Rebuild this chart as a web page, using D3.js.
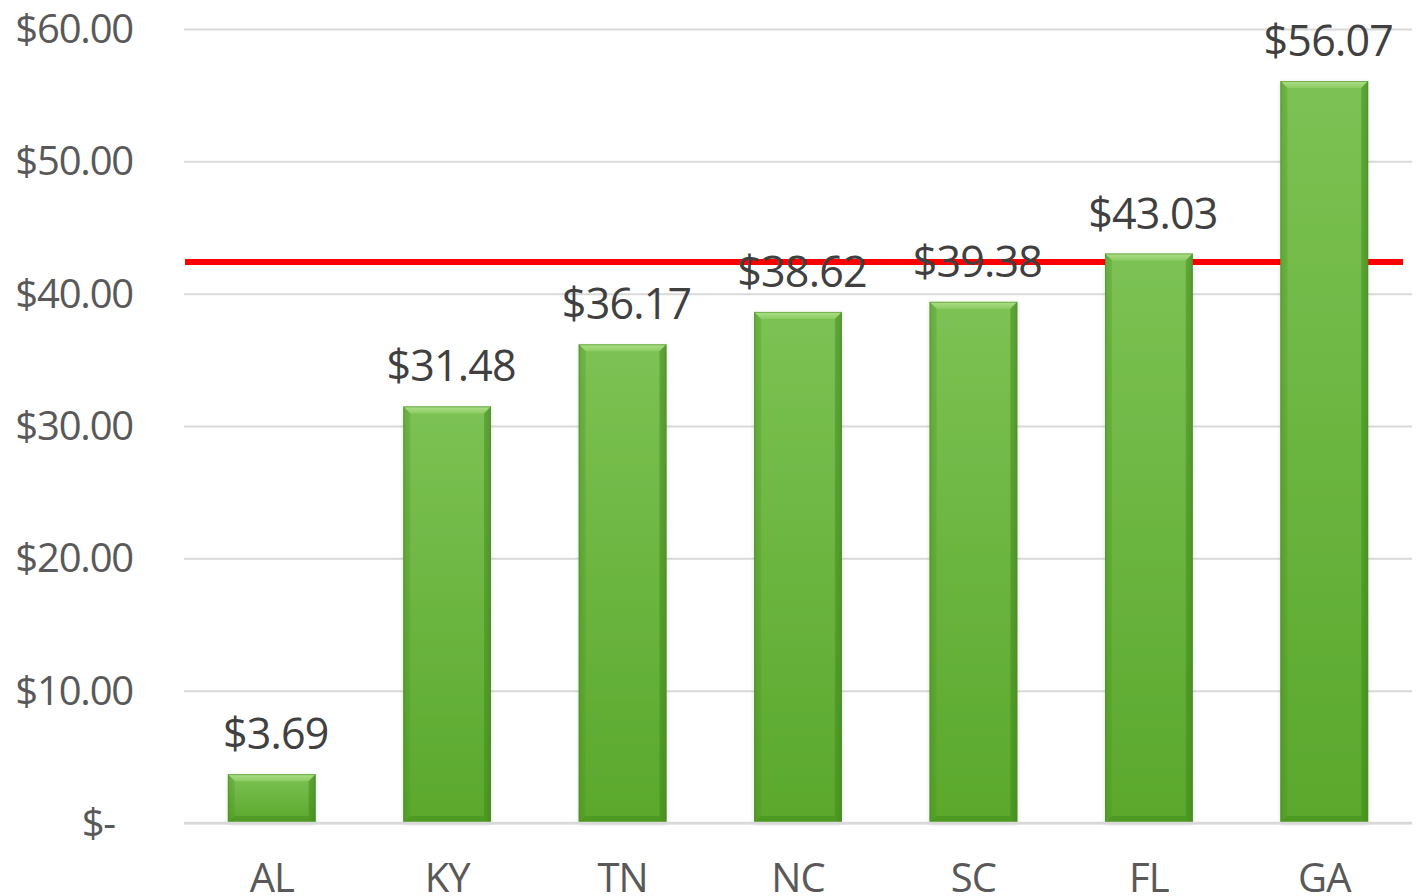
<!DOCTYPE html>
<html>
<head>
<meta charset="utf-8">
<script src="https://cdn.jsdelivr.net/npm/d3@7/dist/d3.min.js"></script>
<style>
  html, body { margin: 0; padding: 0; background: #fff; }
  svg { display: block; }
  text { font-family: "Open Sans", "Noto Sans", sans-serif; }
</style>
</head>
<body>
<svg id="chart" width="1418" height="896"></svg>
<script>
const categories = ["AL", "KY", "TN", "NC", "SC", "FL", "GA"];
const values = [3.69, 31.48, 36.17, 38.62, 39.38, 43.03, 56.07];
const referenceValue = 42.4;
const yTicks = [0, 10, 20, 30, 40, 50, 60];

const svg = d3.select("#chart");
const mLeft = 184, mRight = 1412, mTop = 29, mBottom = 823;

const x = d3.scaleBand().domain(categories).range([mLeft, mRight]).paddingInner(0.5).paddingOuter(0.25);
const y = d3.scaleLinear().domain([0, 60]).range([mBottom, mTop]);

const fmt = v => v === 0 ? "$-" : "$" + d3.format(".2f")(v);

const defs = svg.append("defs");
const g1 = defs.append("linearGradient").attr("id", "barFill").attr("x1", 0).attr("y1", 0).attr("x2", 0).attr("y2", 1);
g1.append("stop").attr("offset", "0%").attr("stop-color", "#7cc254");
g1.append("stop").attr("offset", "100%").attr("stop-color", "#5aa82c");
const g2 = defs.append("linearGradient").attr("id", "sideFill").attr("x1", 0).attr("y1", 0).attr("x2", 1).attr("y2", 0);
g2.append("stop").attr("offset", "0%").attr("stop-color", "#000").attr("stop-opacity", 0.10);
g2.append("stop").attr("offset", "8%").attr("stop-color", "#000").attr("stop-opacity", 0);
g2.append("stop").attr("offset", "92%").attr("stop-color", "#000").attr("stop-opacity", 0);
g2.append("stop").attr("offset", "100%").attr("stop-color", "#000").attr("stop-opacity", 0.14);
const g3 = defs.append("linearGradient").attr("id", "topBevel").attr("x1", 0).attr("y1", 0).attr("x2", 0).attr("y2", 1);
g3.append("stop").attr("offset", "0%").attr("stop-color", "#b2e08e");
g3.append("stop").attr("offset", "100%").attr("stop-color", "#8ccd62");
const f = defs.append("filter").attr("id", "shadow").attr("x", "-10%").attr("y", "-10%").attr("width", "120%").attr("height", "120%");
f.append("feDropShadow").attr("dx", 0).attr("dy", 1).attr("stdDeviation", 2).attr("flood-color", "#000").attr("flood-opacity", 0.12);

// Gridlines
const yAxis = d3.axisLeft(y).tickValues(yTicks).tickSize(-(mRight - mLeft)).tickFormat(fmt);
const ga = svg.append("g").attr("transform", `translate(${mLeft},0)`).call(yAxis);
ga.select(".domain").remove();
ga.selectAll(".tick line").attr("stroke", "#d9d9d9").attr("stroke-width", 2);
ga.selectAll(".tick text")
  .attr("x", -51)
  .attr("dy", "0.34em")
  .attr("fill", "#595959")
  .style("font-size", "40px")
  .style("letter-spacing", "-1.2px")
  .attr("text-anchor", "end");
ga.selectAll(".tick").filter(d => d === 0).select("text").attr("x", -69);

// Reference line (behind bars)
svg.append("line")
  .attr("x1", mLeft + 1).attr("x2", 1403)
  .attr("y1", y(referenceValue)).attr("y2", y(referenceValue))
  .attr("stroke", "#ff0000").attr("stroke-width", 6);

// Bars
const bars = svg.append("g").selectAll("g").data(categories.map((c, i) => ({c, v: values[i]}))).join("g");
bars.each(function(d) {
  const g = d3.select(this);
  const x0 = x(d.c), w = x.bandwidth(), y0 = y(d.v), h = y(0) - y(d.v);
  const b = 7;
  g.append("rect").attr("x", x0).attr("y", y0).attr("width", w).attr("height", h)
    .attr("fill", "url(#barFill)").attr("filter", "url(#shadow)");
  g.append("rect").attr("x", x0).attr("y", y0).attr("width", w).attr("height", h)
    .attr("fill", "url(#sideFill)");
  g.append("path").attr("d", `M${x0},${y0} L${x0 + w},${y0} L${x0 + w - b},${y0 + b} L${x0 + b},${y0 + b} Z`)
    .attr("fill", "url(#topBevel)").attr("opacity", 0.95);
  g.append("path").attr("d", `M${x0},${y0} L${x0 + b},${y0 + b} L${x0 + b},${y0 + h - b} L${x0},${y0 + h} Z`)
    .attr("fill", "#4f9a24").attr("opacity", 0.3);
  g.append("path").attr("d", `M${x0 + w},${y0} L${x0 + w - b},${y0 + b} L${x0 + w - b},${y0 + h - b} L${x0 + w},${y0 + h} Z`)
    .attr("fill", "#3f8a18").attr("opacity", 0.45);
  g.append("path").attr("d", `M${x0},${y0 + h} L${x0 + b},${y0 + h - b} L${x0 + w - b},${y0 + h - b} L${x0 + w},${y0 + h} Z`)
    .attr("fill", "#3f8a18").attr("opacity", 0.45);
  g.append("rect").attr("x", x0 + 0.5).attr("y", y0 + 0.5).attr("width", w - 1).attr("height", h - 1)
    .attr("fill", "none").attr("stroke", "#4a9321").attr("stroke-width", 1).attr("opacity", 0.6);
});

// Baseline
svg.append("line").attr("x1", mLeft).attr("x2", mRight).attr("y1", y(0)).attr("y2", y(0))
  .attr("stroke", "#d9d9d9").attr("stroke-width", 2.5);

// Data labels
svg.append("g").selectAll("text").data(categories.map((c, i) => ({c, v: values[i]}))).join("text")
  .attr("x", d => x(d.c) + x.bandwidth() / 2 + 4)
  .attr("y", d => y(d.v) - 25)
  .attr("text-anchor", "middle")
  .attr("fill", "#404040")
  .style("font-size", "43px")
  .style("letter-spacing", "-0.8px")
  .text(d => fmt(d.v));

// Category axis
const xAxis = d3.axisBottom(x).tickSize(0).tickFormat(d => d);
const gx = svg.append("g").attr("transform", `translate(0,${mBottom})`).call(xAxis);
gx.select(".domain").remove();
gx.selectAll(".tick text")
  .attr("y", 0).attr("dy", 0)
  .attr("transform", "translate(0,69)")
  .attr("fill", "#595959")
  .style("font-size", "40px")
  .style("letter-spacing", "-1px");
</script>
</body>
</html>
